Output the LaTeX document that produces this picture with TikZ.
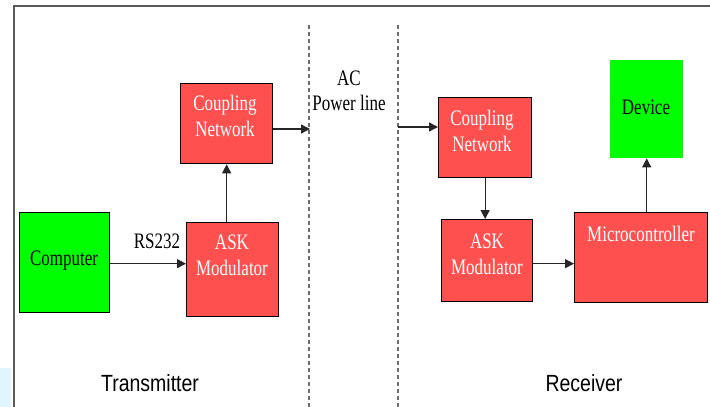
\documentclass[tikz,border=0pt]{standalone}
\usepackage{fontspec}
\setmainfont{Liberation Serif}
\newfontfamily\arialfont{Liberation Sans}
\usetikzlibrary{arrows.meta}
\definecolor{boxred}{RGB}{255,80,80}
\definecolor{boxgreen}{RGB}{0,255,0}
\definecolor{framegray}{RGB}{90,90,90}
\definecolor{dashgray}{RGB}{110,110,110}
\newcommand\stt[1]{\scalebox{1}[1.3]{#1}}
\newcommand\sts[1]{\scalebox{1}[1.2]{#1}}
\tikzset{
  rbox/.style={draw=black, line width=1.3pt, fill=boxred, anchor=north west, inner sep=0pt},
  gbox/.style={draw=black, line width=1.3pt, fill=boxgreen, anchor=north west, inner sep=0pt},
  wtxt/.style={text=white, align=center, font=\fontsize{17}{26}\selectfont, inner sep=0pt},
  btxt/.style={text=black, align=center, font=\fontsize{17}{25}\selectfont, inner sep=0pt},
  stxt/.style={text=black, font=\arialfont\fontsize{19.5}{23}\selectfont, inner sep=0pt},
  arr/.style={draw=black!85, line width=1.3pt, -{Triangle[length=9pt,width=9pt]}},
  dline/.style={draw=dashgray, line width=1.2pt, dash pattern=on 4pt off 3pt},
}
\begin{document}
\begin{tikzpicture}[x=1pt,y=-1pt]
\useasboundingbox (0,0) rectangle (710,407);
\fill[white] (0,0) rectangle (710,407);
% frame
\fill[cyan!12] (0,368) rectangle (11,407);
\draw[framegray, line width=1.8pt] (14,407) -- (14,6) -- (710,6);
% dashed power-line boundaries
\draw[dline] (309,25) -- (309,407);
\draw[dline] (398,25) -- (398,407);
% transmitter boxes
\node[gbox, minimum width=90pt, minimum height=100pt] (comp) at (19,212) {};
\node[rbox, minimum width=92pt, minimum height=80pt] (tcn) at (180,83) {};
\node[rbox, minimum width=92pt, minimum height=94pt] (task) at (186,222) {};
% receiver boxes
\node[rbox, minimum width=93pt, minimum height=80pt] (rcn) at (438,97) {};
\node[rbox, minimum width=91pt, minimum height=82pt] (rask) at (441,219) {};
\node[rbox, minimum width=133pt, minimum height=90pt] (micro) at (574,212) {};
\node[fill=boxgreen, anchor=north west, inner sep=0pt, minimum width=73pt, minimum height=98pt] (dev) at (610,60) {};
% texts
\node[btxt] (compt) at (64,261) {\stt{Computer}};
\node[wtxt] (tcnt) at (225,116) {\stt{Coupling}\\\stt{Network}};
\node[wtxt] (taskt) at (232,255) {\stt{ASK}\\\stt{Modulator}};
\node[btxt] (rs) at (157,241) {\stt{RS232}};
\node[btxt] (ac) at (349,91) {\stt{AC}\\\stt{Power line}};
\node[wtxt] (rcnt) at (482,131) {\stt{Coupling}\\\stt{Network}};
\node[wtxt] (raskt) at (487,254) {\stt{ASK}\\\stt{Modulator}};
\node[wtxt] (microt) at (641,234) {\stt{Microcontroller}};
\node[btxt] (devt) at (646,107) {\stt{Device}};
\node[stxt] (tx) at (150,383) {\sts{Transmitter}};
\node[stxt] (rx) at (584,383) {\sts{Receiver}};
% connectors
\coordinate (d1) at (310,129);
\coordinate (d2) at (398,127);
\draw[arr] ([yshift=-1pt]comp.east) -- ([yshift=-1pt]comp.east -| task.west);
\draw[arr] (task.north -| tcn.south) -- (tcn.south);
\draw[arr] (tcn.east |- d1) -- (d1);
\draw[arr] (d2) -- (d2 -| rcn.west);
\draw[arr] (rcn.south) -- (rcn.south |- rask.north);
\draw[arr] ([yshift=-3pt]rask.east) -- ([yshift=-3pt]rask.east -| micro.west);
\draw[arr] (dev.south |- micro.north) -- (dev.south);
\end{tikzpicture}
\end{document}
